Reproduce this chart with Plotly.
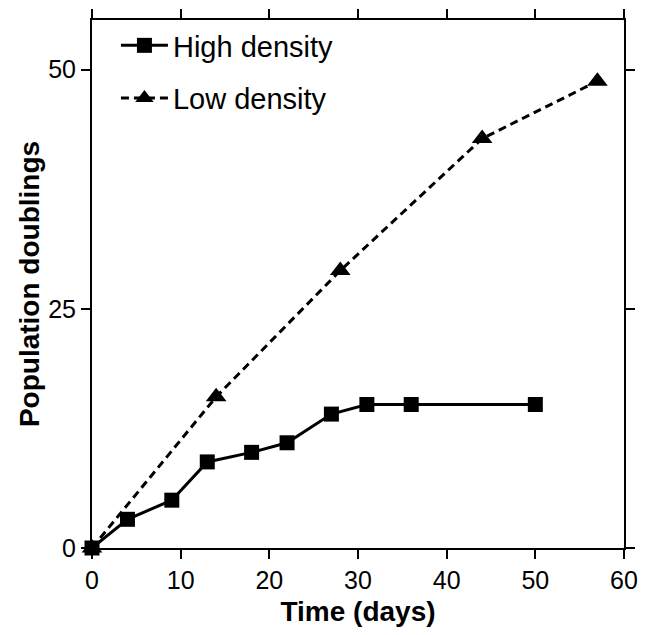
import plotly.graph_objects as go

high_days = [0, 4, 9, 13, 18, 22, 27, 31, 36, 50]
high_pd = [0, 3, 5, 9, 10, 11, 14, 15, 15, 15]

low_days = [0, 14, 28, 44, 57]
low_pd = [0, 15.8, 29, 42.8, 48.8]

x_ticks = [0, 10, 20, 30, 40, 50, 60]
y_ticks = [0, 25, 50]

fig = go.Figure()

fig.add_trace(go.Scatter(
    x=high_days, y=high_pd,
    mode='lines+markers',
    line=dict(color='black', width=3),
    marker=dict(symbol='square', size=15, color='black'),
    name='High density',
    legendgroup='a',
    cliponaxis=False,
))

fig.add_trace(go.Scatter(
    x=low_days, y=low_pd,
    mode='lines+markers',
    line=dict(color='black', width=3, dash='8px,5px'),
    marker=dict(symbol='triangle-up', size=18, color='black'),
    name='Low density',
    legendgroup='b',
    cliponaxis=False,
))

axis_common = dict(
    showline=True, linecolor='black', linewidth=2,
    mirror='ticks', ticks='outside', ticklen=9, tickwidth=2, tickcolor='black',
    showgrid=False, zeroline=False, automargin=False,
    tickfont=dict(family='Liberation Sans, Arial', size=25, color='black'),
)

# page body has an 8px margin, so the figure is a bit smaller than the window
fig.update_layout(
    width=635, height=619,
    margin=dict(l=84, r=19, t=12, b=79),
    plot_bgcolor='white', paper_bgcolor='white',
    font=dict(family='Liberation Sans, Arial', color='black'),
    xaxis=dict(
        range=[0, 60], tickvals=x_ticks,
        title=dict(text='<b>Time (days)</b>', font=dict(size=28), standoff=19),
        **axis_common,
    ),
    yaxis=dict(
        range=[0, 55.2], tickvals=y_ticks,
        title=dict(text='<b>Population doublings</b>', font=dict(size=28), standoff=0),
        **axis_common,
    ),
    legend=dict(
        x=0.045, y=1.0, xanchor='left', yanchor='top',
        font=dict(size=29, color='black'),
        bgcolor='rgba(0,0,0,0)',
        traceorder='grouped', tracegroupgap=12,
        itemwidth=47,
    ),
    showlegend=True,
)

fig.write_html("out.html")
